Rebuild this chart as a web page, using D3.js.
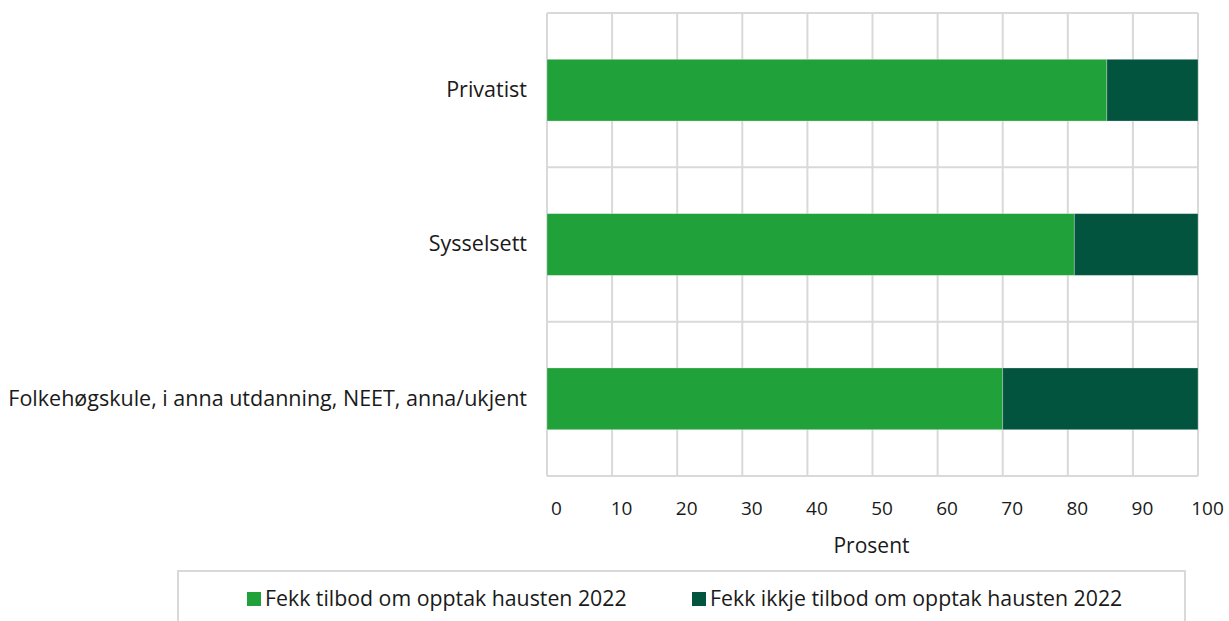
<!DOCTYPE html>
<html>
<head>
<meta charset="utf-8">
<script src="https://cdn.jsdelivr.net/npm/d3@7"></script>
<style>
  body { margin: 0; background: #fff; }
  svg { display: block; font-family: "Open Sans", sans-serif; }
</style>
</head>
<body>
<svg id="vis-svg"></svg>
<script>
// chart data
const categories = ["Privatist", "Sysselsett", "Folkehøgskule, i anna utdanning, NEET, anna/ukjent"];
const seriesNames = ["Fekk tilbod om opptak hausten 2022", "Fekk ikkje tilbod om opptak hausten 2022"];
const fekkTilbod = [86, 81, 70];
const fekkIkkjeTilbod = [14, 19, 30];
const xTicks = [0, 10, 20, 30, 40, 50, 60, 70, 80, 90, 100];
const colors = ["#21a139", "#02543f"];

const W = 1229, H = 621;
const margin = {top: 13, right: 31, bottom: 145, left: 547};
const width = W - margin.left - margin.right,
      height = H - margin.top - margin.bottom;

const svg = d3.select("#vis-svg")
    .attr("width", W)
    .attr("height", H);

const g = svg.append("g")
    .attr("transform", "translate(" + margin.left + "," + margin.top + ")");

// scales
const x = d3.scaleLinear().domain([0, 100]).range([0, width]);
const y = d3.scaleBand().domain(categories).range([0, height]).paddingInner(0.6).paddingOuter(0.3);
const yEdge = d3.scaleLinear().domain([0, categories.length]).range([0, height]);

// stack
const rows = categories.map((c, i) => ({cat: c, a: fekkTilbod[i], b: fekkIkkjeTilbod[i]}));
const stacked = d3.stack().keys(["a", "b"])(rows);

// grid
g.selectAll(".vgrid")
    .data(xTicks)
  .enter().append("line")
    .attr("x1", d => x(d)).attr("x2", d => x(d))
    .attr("y1", 0).attr("y2", height)
    .attr("stroke", "#d9d9d9")
    .attr("stroke-width", 2);

g.selectAll(".hgrid")
    .data(d3.range(categories.length + 1))
  .enter().append("line")
    .attr("x1", 0).attr("x2", width)
    .attr("y1", d => yEdge(d)).attr("y2", d => yEdge(d))
    .attr("stroke", "#d9d9d9")
    .attr("stroke-width", 2);

// bars
g.selectAll(".series")
    .data(stacked)
  .enter().append("g")
    .attr("fill", (d, i) => colors[i])
  .selectAll("rect")
    .data(d => d)
  .enter().append("rect")
    .attr("x", d => x(d[0]))
    .attr("y", d => y(d.data.cat))
    .attr("width", d => x(d[1]) - x(d[0]))
    .attr("height", y.bandwidth())
    .attr("stroke", "rgba(255,255,255,0.35)")
    .attr("stroke-width", 0.8);

// x axis labels
const xAxis = g.append("g")
    .attr("transform", "translate(9," + height + ")")
    .call(d3.axisBottom(x).tickValues(xTicks).tickSize(0).tickPadding(26));
xAxis.select(".domain").remove();
xAxis.selectAll("text")
    .style("font-family", "'Open Sans', sans-serif")
    .style("font-size", "19px")
    .attr("fill", "#1a1a1a");

// x axis title
g.append("text")
    .attr("x", width / 2 - 1)
    .attr("y", height + 77)
    .style("text-anchor", "middle")
    .style("font-size", "21px")
    .attr("fill", "#1a1a1a")
    .text("Prosent");

// y labels
const yAxis = g.append("g")
    .call(d3.axisLeft(y).tickSize(0).tickPadding(20));
yAxis.select(".domain").remove();
yAxis.selectAll("text")
    .style("font-family", "'Open Sans', sans-serif")
    .style("font-size", "21.5px")
    .attr("fill", "#1a1a1a");

// legend
svg.append("rect")
    .attr("x", 178).attr("y", 571)
    .attr("width", 1007).attr("height", 70)
    .attr("fill", "#fff")
    .attr("stroke", "#d9d9d9")
    .attr("stroke-width", 2);

const legendX = [247, 692];
const legend = svg.selectAll(".legend")
    .data(seriesNames)
  .enter().append("g")
    .attr("transform", (d, i) => "translate(" + legendX[i] + ",592)");
legend.append("rect")
    .attr("width", 14).attr("height", 14)
    .attr("fill", (d, i) => colors[i]);
legend.append("text")
    .attr("x", 18).attr("y", 7)
    .attr("dy", "0.35em")
    .style("font-size", "21.3px")
    .attr("fill", "#1a1a1a")
    .text(d => d);
</script>
</body>
</html>
